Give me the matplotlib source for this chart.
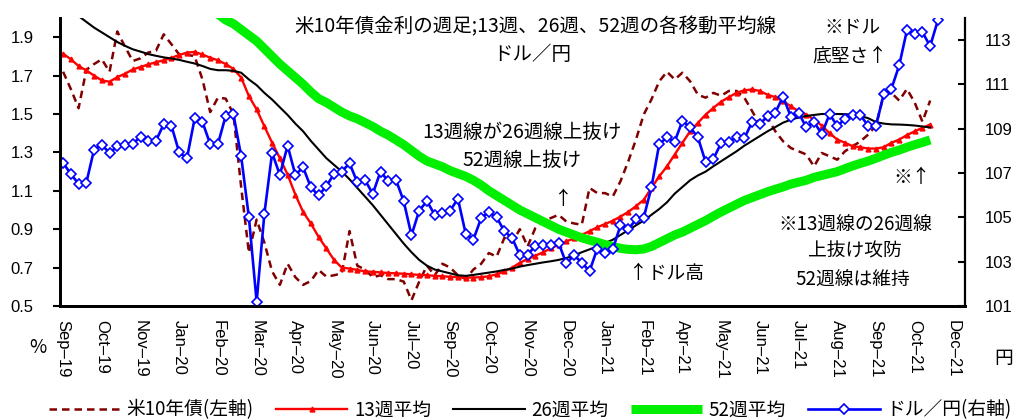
import numpy as np
import matplotlib.pyplot as plt

plt.rcParams['font.family'] = ['Liberation Sans', 'Noto Sans CJK JP']
JP = ['Noto Sans CJK JP', 'DejaVu Sans']

# weekly closes: US 10y yield (%, left) and USD/JPY (right)
us10y = [1.72, 1.63, 1.53, 1.73, 1.76, 1.785, 1.72, 1.93, 1.85, 1.776,
         1.79, 1.82, 1.83, 1.915, 1.863, 1.81, 1.81, 1.80, 1.68, 1.51,
         1.585, 1.58, 1.50, 1.12, 0.777, 0.95, 0.83, 0.68, 0.61, 0.72,
         0.65, 0.61, 0.63, 0.688, 0.653, 0.66, 0.67, 0.89, 0.71, 0.69,
         0.65, 0.66, 0.64, 0.64, 0.627, 0.53, 0.627, 0.71, 0.66, 0.72,
         0.70, 0.66, 0.64, 0.69, 0.72, 0.776, 0.757, 0.855, 0.83, 0.90,
         0.81, 0.906, 0.95, 0.958, 0.975, 0.94, 0.93, 0.923, 1.115, 1.088,
         1.088, 1.07, 1.15, 1.253, 1.367, 1.497, 1.576, 1.67, 1.72, 1.68,
         1.715, 1.67, 1.60, 1.585, 1.61, 1.595, 1.62, 1.62, 1.585, 1.515,
         1.445, 1.48, 1.41, 1.358, 1.323, 1.306, 1.289, 1.227, 1.297, 1.28,
         1.262, 1.306, 1.332, 1.358, 1.393, 1.44, 1.60, 1.61, 1.57, 1.63,
         1.56, 1.46, 1.57]

ma13 = [1.814, 1.785, 1.75, 1.727, 1.70, 1.675, 1.668, 1.692, 1.71, 1.732,
        1.745, 1.758, 1.77, 1.78, 1.793, 1.807, 1.82, 1.823, 1.81, 1.793,
        1.78, 1.76, 1.735, 1.69, 1.593, 1.524, 1.436, 1.35, 1.27, 1.184,
        1.08, 0.99, 0.93, 0.86, 0.80, 0.74, 0.70, 0.695, 0.688, 0.68,
        0.678, 0.675, 0.672, 0.67, 0.668, 0.665, 0.662, 0.66, 0.657, 0.655,
        0.652, 0.65, 0.648, 0.648, 0.65, 0.655, 0.665, 0.68, 0.70, 0.725,
        0.745, 0.762, 0.78, 0.80, 0.82, 0.836, 0.853, 0.87, 0.89, 0.91,
        0.927, 0.944, 0.966, 0.99, 1.02, 1.053, 1.115, 1.175, 1.227, 1.289,
        1.35, 1.41, 1.454, 1.497, 1.532, 1.564, 1.588, 1.611, 1.623, 1.628,
        1.62, 1.60, 1.588, 1.567, 1.54, 1.515, 1.497, 1.47, 1.44, 1.40,
        1.367, 1.35, 1.332, 1.327, 1.32, 1.32, 1.327, 1.35, 1.367, 1.39,
        1.41, 1.428, 1.445]

ma26 = [2.07, 2.04, 2.01, 1.98, 1.95, 1.925, 1.90, 1.875, 1.855, 1.837,
        1.825, 1.812, 1.803, 1.795, 1.789, 1.782, 1.772, 1.763, 1.75, 1.735,
        1.728, 1.728, 1.725, 1.715, 1.68, 1.65, 1.61, 1.575, 1.535, 1.495,
        1.45, 1.41, 1.36, 1.315, 1.27, 1.235, 1.20, 1.16, 1.115, 1.07,
        1.025, 0.975, 0.925, 0.875, 0.825, 0.78, 0.74, 0.71, 0.69, 0.68,
        0.67, 0.66, 0.657, 0.662, 0.668, 0.674, 0.68, 0.688, 0.695, 0.705,
        0.713, 0.72, 0.727, 0.733, 0.74, 0.75, 0.763, 0.78, 0.795, 0.81,
        0.828, 0.845, 0.87, 0.895, 0.92, 0.945, 0.975, 1.005, 1.04, 1.085,
        1.12, 1.155, 1.18, 1.20, 1.228, 1.254, 1.28, 1.306, 1.335, 1.36,
        1.385, 1.41, 1.432, 1.455, 1.47, 1.482, 1.49, 1.495, 1.50, 1.50,
        1.50, 1.499, 1.497, 1.49, 1.478, 1.458, 1.45, 1.446, 1.445, 1.443,
        1.44, 1.435, 1.43]

nan = np.nan
ma52 = [nan] * 19 + [
        2.06, 2.02, 1.99, 1.97, 1.94, 1.91, 1.88, 1.84, 1.80, 1.76,
        1.725, 1.69, 1.655, 1.615, 1.58, 1.56, 1.535, 1.51, 1.49, 1.475,
        1.455, 1.435, 1.41, 1.39, 1.365, 1.34, 1.31, 1.28, 1.255, 1.24,
        1.225, 1.205, 1.19, 1.175, 1.155, 1.13, 1.10, 1.075, 1.05, 1.025,
        1.0, 0.98, 0.96, 0.94, 0.92, 0.90, 0.885, 0.87, 0.855, 0.843,
        0.832, 0.82, 0.81, 0.80, 0.795, 0.793, 0.797, 0.81, 0.83, 0.85,
        0.87, 0.885, 0.905, 0.925, 0.945, 0.968, 0.99, 1.01, 1.03, 1.05,
        1.065, 1.08, 1.095, 1.108, 1.12, 1.135, 1.145, 1.155, 1.17, 1.18,
        1.19, 1.20, 1.215, 1.23, 1.243, 1.255, 1.27, 1.285, 1.30, 1.312,
        1.327, 1.34, 1.352, 1.365]

usdjpy = [107.46, 106.96, 106.51, 106.56, 108.06, 108.27, 107.91, 108.20, 108.27, 108.31,
          108.65, 108.46, 108.46, 109.21, 109.13, 107.93, 107.67, 109.48, 109.31, 108.31,
          108.31, 109.58, 109.66, 107.76, 105.01, 101.19, 105.17, 107.91, 106.92, 108.24,
          106.92, 107.26, 106.36, 105.99, 106.41, 106.96, 107.07, 107.44, 106.59, 106.69,
          106.06, 107.07, 106.63, 106.69, 105.73, 104.19, 105.31, 105.73, 105.12, 105.21,
          105.31, 105.84, 104.27, 104.00, 104.97, 105.24, 105.01, 104.37, 104.07, 103.29,
          103.32, 103.71, 103.74, 103.74, 103.85, 102.92, 103.29, 102.96, 102.57, 103.59,
          103.37, 103.56, 104.64, 104.46, 104.91, 104.99, 106.36, 108.31, 108.61, 108.42,
          109.36, 109.06, 108.61, 107.49, 107.64, 108.36, 108.42, 108.61, 108.57, 109.31,
          109.21, 109.58, 109.73, 110.45, 109.55, 109.73, 109.06, 109.31, 108.76, 109.66,
          109.13, 109.44, 109.61, 109.61, 109.13, 109.13, 110.56, 110.81, 111.86, 113.45,
          113.30, 113.36, 112.73, 113.90]

# one label every 5 weeks
month_labels = ['Sep–19', 'Oct–19', 'Nov–19', 'Jan–20', 'Feb–20', 'Mar–20',
                'Apr–20', 'May–20', 'Jun–20', 'Jul–20', 'Sep–20', 'Oct–20',
                'Nov–20', 'Dec–20', 'Jan–21', 'Feb–21', 'Apr–21', 'May–21',
                'Jun–21', 'Jul–21', 'Aug–21', 'Sep–21', 'Oct–21', 'Dec–21']

W, H = 1018, 419
fig = plt.figure(figsize=(W / 100, H / 100), dpi=100)
ax = fig.add_axes([60 / W, 113 / H, 905 / W, 288 / H])
ax2 = ax.twinx()

xw = np.arange(len(us10y))
xf = np.arange(len(usdjpy))

l1, = ax.plot(xw, us10y, color='#800000', lw=1.8, dashes=(3, 2), zorder=2)
l2, = ax.plot(xw, ma13, color='#ff0000', lw=1.7, marker='^', ms=3.5, zorder=3)
l3, = ax.plot(xw, ma26, color='black', lw=1.5, zorder=4)
l4, = ax.plot(xw, ma52, color='#00ee00', lw=6.5, solid_capstyle='butt', zorder=5)
l5, = ax2.plot(xf, usdjpy, color='#0000ff', lw=1.9, marker='D', ms=5.2,
               mfc='white', mec='#0000ff', mew=1.2)

ax.set_xlim(-0.4, 116.5)
ax.set_ylim(0.5, 2.0)
ax2.set_ylim(101, 114)

ax.set_yticks(np.arange(0.5, 2.0, 0.2))
ax.set_yticklabels([f'{v:.1f}' for v in np.arange(0.5, 2.0, 0.2)])
ax2.set_yticks(range(101, 114, 2))
ax.set_xticks(range(0, 5 * len(month_labels), 5))
ax.set_xticklabels(month_labels, rotation=-90, ha='center', va='top')

ax.tick_params(axis='x', length=0, pad=10, labelsize=12)
ax.tick_params(axis='y', direction='out', length=5, width=1.5, pad=14, labelsize=12)
ax2.tick_params(axis='y', direction='in', length=5, width=1.5, pad=14, labelsize=12)

for a in (ax, ax2):
    a.spines['top'].set_visible(False)
    a.spines['left'].set_linewidth(2)
    a.spines['bottom'].set_linewidth(2)
    a.spines['right'].set_linewidth(1.6)
ax.spines['right'].set_visible(False)


def ftext(x, y, s, size=13.5):
    fig.text(x / W, 1 - y / H, s, ha='center', va='center', family=JP, fontsize=size)


ftext(535, 27, '米10年債金利の週足;13週、26週、52週の各移動平均線', size=14)
ftext(532, 54, 'ドル／円', size=14)
ftext(852, 28, '※ドル')
ftext(850, 56, '底堅さ↑')
ftext(522, 132, '13週線が26週線上抜け', size=14)
ftext(522, 160, '52週線上抜け', size=14)
ftext(563, 200, '↑')
ftext(666, 273, '↑ドル高')
ftext(912, 177, '※↑')
ftext(855, 225, '※13週線の26週線')
ftext(855, 251, '上抜け攻防')
ftext(853, 280, '52週線は維持')
ftext(38, 347, '%')
ftext(1004, 358, '円')

fig.legend([l1, l2, l3, l4, l5],
           ['米10年債(左軸)', '13週平均', '26週平均', '52週平均', 'ドル／円(右軸)'],
           loc='center', bbox_to_anchor=(530 / W, 1 - 410 / H), ncol=5, frameon=False,
           prop={'family': JP, 'size': 13.5}, handlelength=3.8, handletextpad=0.35,
           columnspacing=1.2, borderaxespad=0, borderpad=0)

fig.savefig('out.png', dpi=100)
